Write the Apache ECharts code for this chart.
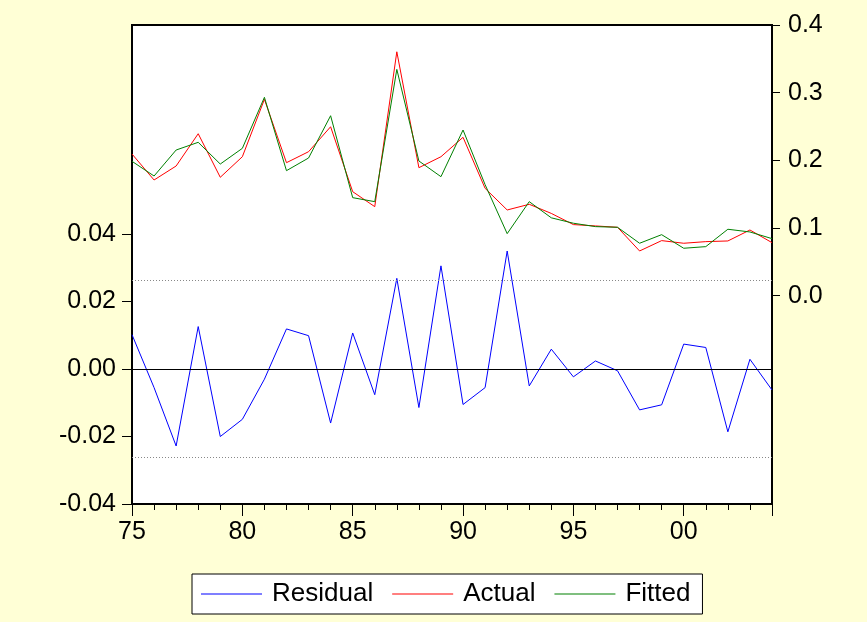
<!DOCTYPE html>
<html><head><meta charset="utf-8">
<script src="https://cdn.jsdelivr.net/npm/echarts@6/dist/echarts.min.js"></script>
<style>html,body{margin:0;padding:0;background:#FFFFD6;}#c{width:867px;height:622px;}</style>
</head><body><div id="c"></div>
<script>
const years = [1975,1976,1977,1978,1979,1980,1981,1982,1983,1984,1985,1986,1987,1988,1989,1990,1991,1992,1993,1994,1995,1996,1997,1998,1999,2000,2001,2002,2003,2004];
const residual = [0.0102,-0.0055,-0.0228,0.0126,-0.0200,-0.0149,-0.0030,0.0119,0.0099,-0.0160,0.0107,-0.0076,0.0269,-0.0114,0.0306,-0.0105,-0.0055,0.0350,-0.0050,0.0059,-0.0023,0.0024,-0.0005,-0.0121,-0.0106,0.0074,0.0064,-0.0186,0.0029,-0.0062];
const actual = [0.2093,0.1709,0.1916,0.2393,0.1749,0.2053,0.2901,0.1965,0.2127,0.2496,0.1536,0.1315,0.3604,0.1891,0.2053,0.2340,0.1586,0.1266,0.1350,0.1215,0.1050,0.1030,0.1010,0.0660,0.0813,0.0774,0.0798,0.0808,0.0970,0.0783];
const fitted = [0.1985,0.1768,0.2152,0.2266,0.1945,0.2177,0.2931,0.1847,0.2034,0.2659,0.1448,0.1389,0.3344,0.1990,0.1758,0.2448,0.1640,0.0916,0.1389,0.1150,0.1070,0.1020,0.1010,0.0774,0.0901,0.0700,0.0724,0.0981,0.0941,0.0842];
const leftTicks = [-0.04,-0.02,0,0.02,0.04];
const rightTicks = [0,0.1,0.2,0.3,0.4];
const xLabelYears = [1975,1980,1985,1990,1995,2000];
const seBand = 0.0262;

const font = 'Liberation Sans, Arial, sans-serif';
const pair = arr => years.map((y,i)=>[y,arr[i]]);
const chart = echarts.init(document.getElementById('c'), null, {renderer:'canvas'});
chart.setOption({
  animation:false,
  backgroundColor:'#FFFFD6',
  grid:{left:132,right:95,top:25,bottom:118,show:true,backgroundColor:'#fff',borderColor:'#000',borderWidth:2},
  legend:{
    left:192, top:574, orient:'horizontal',
    backgroundColor:'#fff', borderColor:'#000', borderWidth:1,
    padding:[7,12,7,9], itemGap:19, itemWidth:61, itemHeight:1,
    icon:'rect',
    textStyle:{fontFamily:font,fontSize:26,color:'#000',padding:[0,0,0,5]},
    data:['Residual','Actual','Fitted']
  },
  xAxis:{
    type:'value', min:1975, max:2004, interval:5,
    axisLine:{show:true,onZero:false,lineStyle:{color:'#000',width:2}},
    axisTick:{show:true,length:12,lineStyle:{color:'#000',width:1}},
    minorTick:{show:true,splitNumber:5,length:6,lineStyle:{color:'#000',width:1}},
    splitLine:{show:false},
    axisLabel:{fontFamily:font,fontSize:25,color:'#000',margin:16,customValues:xLabelYears,
      formatter:v=>String(v%100).padStart(2,'0')}
  },
  yAxis:[
    {type:'value', position:'left', min:-0.04, max:0.102,
     axisLine:{show:true,onZero:false,lineStyle:{color:'#000',width:2}},
     axisTick:{show:true,length:10,customValues:leftTicks,lineStyle:{color:'#000',width:1}},
     splitLine:{show:false},
     axisLabel:{fontFamily:font,fontSize:25,color:'#000',margin:16,customValues:leftTicks,
       formatter:v=>v.toFixed(2)}},
    {type:'value', position:'right', min:-0.308, max:0.4,
     axisLine:{show:true,onZero:false,lineStyle:{color:'#000',width:2}},
     axisTick:{show:true,length:8,customValues:rightTicks,lineStyle:{color:'#000',width:1}},
     splitLine:{show:false},
     axisLabel:{fontFamily:font,fontSize:25,color:'#000',margin:16,customValues:rightTicks,
       formatter:v=>v.toFixed(1)}}
  ],
  series:[
    {name:'Residual',type:'line',yAxisIndex:0,data:pair(residual),symbol:'none',
     lineStyle:{color:'#0000FF',width:1},itemStyle:{color:'#0000FF'},
     markLine:{silent:true,symbol:'none',precision:5,label:{show:false},
       data:[
         {yAxis:0,lineStyle:{color:'#000',width:1,type:'solid'}},
         {yAxis:seBand,lineStyle:{color:'#888',width:1,type:[1,2]}},
         {yAxis:-seBand,lineStyle:{color:'#888',width:1,type:[1,2]}}
       ]}},
    {name:'Actual',type:'line',yAxisIndex:1,data:pair(actual),symbol:'none',
     lineStyle:{color:'#FF0000',width:1},itemStyle:{color:'#FF0000'}},
    {name:'Fitted',type:'line',yAxisIndex:1,data:pair(fitted),symbol:'none',
     lineStyle:{color:'#008000',width:1},itemStyle:{color:'#008000'}}
  ]
});
</script></body></html>
